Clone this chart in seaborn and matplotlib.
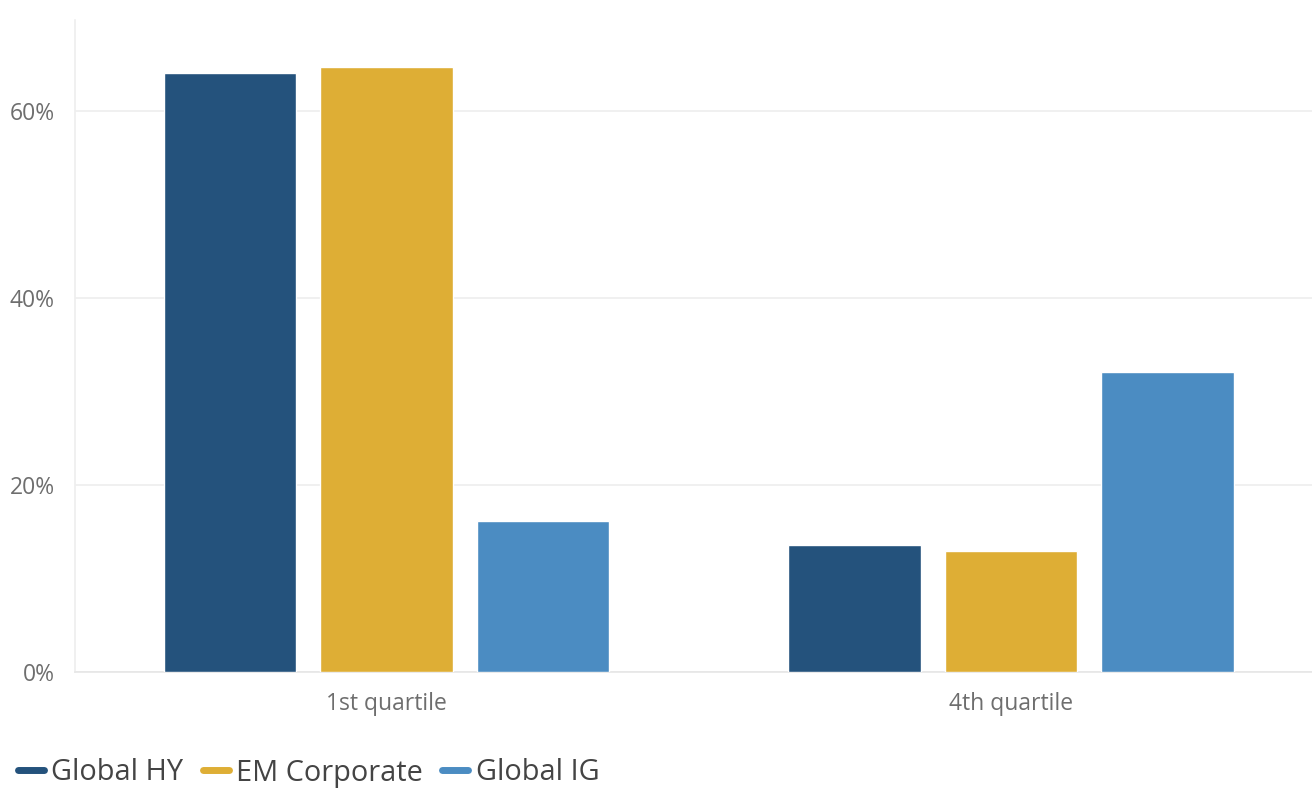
import pandas as pd
import seaborn as sns
import matplotlib.pyplot as plt
from matplotlib.lines import Line2D

# values (percent)
quartiles = ['1st quartile', '4th quartile']
series = ['Global HY', 'EM Corporate', 'Global IG']
global_hy = [64.0, 13.6]
em_corporate = [64.7, 12.9]
global_ig = [16.1, 32.1]
colors = ['#24527c', '#deae35', '#4b8cc2']
y_ticks = [0, 20, 40, 60]
y_tick_labels = ['0%', '20%', '40%', '60%']

df = pd.DataFrame({
    'quartile': quartiles * 3,
    'series': [s for s in series for _ in quartiles],
    'value': global_hy + em_corporate + global_ig,
})

sns.set_style('white')
plt.rcParams['font.family'] = ['Open Sans', 'DejaVu Sans']

fig = plt.figure(figsize=(13.12, 7.89), dpi=100)
ax = fig.add_axes([75 / 1312, 1 - 672 / 789, 1 - 75 / 1312, (672 - 20) / 789])

sns.barplot(data=df, x='quartile', y='value', hue='series', hue_order=series,
            palette=colors, width=0.752, gap=0.155, saturation=1,
            legend=False, ax=ax, zorder=3)

ax.set_xlim(-0.499, 1.482)
ax.set_ylim(0, 69.7)
ax.set_yticks(y_ticks)
ax.set_yticklabels(y_tick_labels)
ax.set_xlabel('')
ax.set_ylabel('')
ax.grid(axis='y', color='#eeeeee', linewidth=1.2, zorder=0)
for side in ['top', 'right']:
    ax.spines[side].set_visible(False)
ax.spines['left'].set_color('#eeeeee')
ax.spines['bottom'].set_color('#e6e6e6')
ax.spines['left'].set_linewidth(1.2)
ax.spines['bottom'].set_linewidth(1.2)
ax.tick_params(axis='y', length=9.5, width=1.2, color='#eeeeee', pad=5,
               labelsize=16.5, labelcolor='#6e6e6e')
ax.tick_params(axis='x', length=6, width=1.2, color='#eeeeee', pad=8.5,
               labelsize=16.5, labelcolor='#6e6e6e')

handles = [Line2D([0], [0], color=c, linewidth=5, solid_capstyle='round') for c in colors]
fig.legend(handles, series, loc='center left', bbox_to_anchor=(18 / 1312, 16 / 789),
           ncol=3, frameon=False, fontsize=20.8, labelcolor='#444444',
           handlelength=0.9, handletextpad=0.25, columnspacing=0.68,
           borderpad=0, borderaxespad=0)

fig.savefig('out.png', dpi=100)
